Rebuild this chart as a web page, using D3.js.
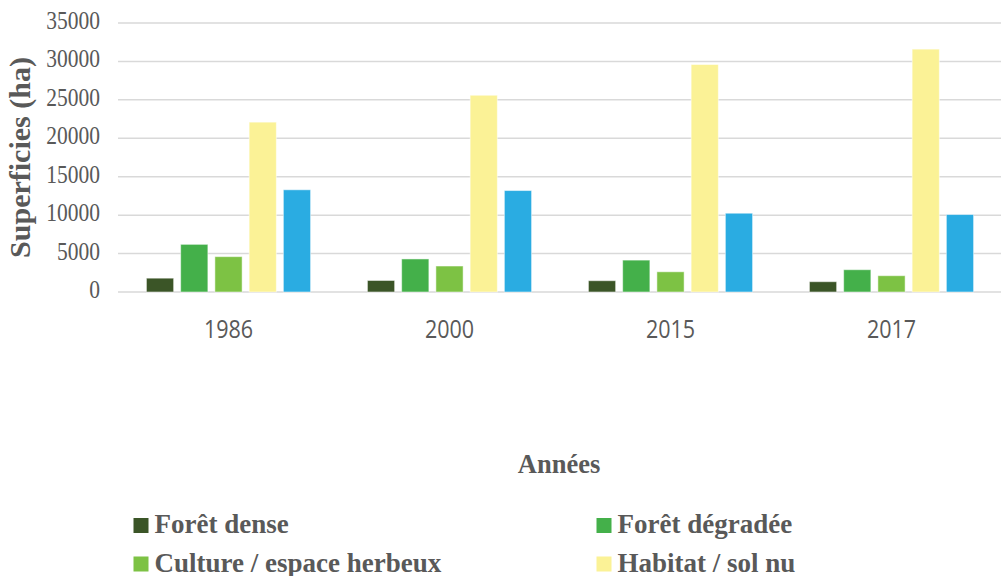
<!DOCTYPE html>
<html>
<head>
<meta charset="utf-8">
<script src="https://cdn.jsdelivr.net/npm/d3@7"></script>
<style>
  html, body { margin: 0; padding: 0; background: #fff; overflow: hidden; }
</style>
</head>
<body>
<div id="chart"></div>
<script>
const years = ["1986", "2000", "2015", "2017"];
const series = ["Forêt dense", "Forêt dégradée", "Culture / espace herbeux", "Habitat / sol nu", "Eau"];
const colors = ["#3b5527", "#44b04a", "#7dc244", "#fbf296", "#2aace2"];
// values per series, one per year
const foretDense = [1800, 1500, 1470, 1340];
const foretDegradee = [6200, 4300, 4150, 2900];
const culture = [4600, 3380, 2630, 2120];
const habitat = [22100, 25600, 29600, 31600];
const eau = [13300, 13200, 10250, 10080];
const values = [foretDense, foretDegradee, culture, habitat, eau];
const yTicks = [0, 5000, 10000, 15000, 20000, 25000, 30000, 35000];

const width = 1001, height = 576;
const margin = {left: 118, right: 0, top: 23, bottom: 284};
const serif = "'Liberation Serif', 'Times New Roman', serif";

const svg = d3.select("#chart").append("svg")
    .attr("width", width).attr("height", height);

const x = d3.scaleBand().domain(years)
    .range([margin.left, width - margin.right + 1]);
const xs = d3.scaleBand().domain(series)
    .range([0, x.bandwidth()])
    .paddingInner(0.205).paddingOuter(0.83);
const y = d3.scaleLinear().domain([0, 35000])
    .range([height - margin.bottom, margin.top]);

// gridlines
svg.append("g").selectAll("line")
    .data(yTicks)
    .join("line")
    .attr("x1", margin.left).attr("x2", width)
    .attr("y1", d => y(d)).attr("y2", d => y(d))
    .attr("stroke", "#d9d9d9").attr("stroke-width", 1.5);

// y tick labels (slightly tall glyphs, like the source image)
svg.append("g").selectAll("text")
    .data(yTicks)
    .join("text")
    .attr("transform", d => `translate(100,${y(d) + 6}) scale(1,1.13)`)
    .attr("text-anchor", "end")
    .style("font-family", serif)
    .style("font-size", "21.5px")
    .attr("fill", "#595959")
    .text(d => d);

// bars
const groups = svg.append("g").selectAll("g")
    .data(years)
    .join("g")
    .attr("transform", d => `translate(${x(d)},0)`);

groups.selectAll("rect")
    .data((yr, i) => series.map((s, j) => ({s, j, v: values[j][i]})))
    .join("rect")
    .attr("x", d => xs(d.s))
    .attr("width", xs.bandwidth())
    .attr("y", d => y(d.v))
    .attr("height", d => y(0) - y(d.v))
    .attr("fill", d => colors[d.j])
    .attr("stroke", "#ffffff").attr("stroke-opacity", 0.5).attr("stroke-width", 1);

// x labels
svg.append("g").selectAll("text")
    .data(years)
    .join("text")
    .attr("transform", d => `translate(${x(d) + x.bandwidth() / 2},338) scale(1,1.16)`)
    .attr("text-anchor", "middle")
    .style("font-family", "'Open Sans', 'Liberation Sans', sans-serif")
    .style("font-size", "21.5px")
    .attr("fill", "#595959")
    .text(d => d);

// axis titles
svg.append("text")
    .attr("transform", `translate(30,${(y(0) + y(35000)) / 2}) rotate(-90)`)
    .attr("text-anchor", "middle")
    .style("font-family", serif)
    .style("font-size", "30px").style("font-weight", "bold")
    .attr("fill", "#595959")
    .text("Superficies (ha)");

svg.append("text")
    .attr("x", 559).attr("y", 473)
    .attr("text-anchor", "middle")
    .style("font-family", serif)
    .style("font-size", "26.5px").style("font-weight", "bold")
    .attr("fill", "#595959")
    .text("Années");

// legend (2 columns); the last entry falls below the visible area in the source
const legend = svg.append("g").selectAll("g")
    .data(series.slice(0, 4))
    .join("g")
    .attr("transform", (d, i) => `translate(${i % 2 === 0 ? 133.5 : 596.5},${518 + Math.floor(i / 2) * 38.5})`);

legend.append("rect")
    .attr("width", 15).attr("height", 15)
    .attr("fill", (d, i) => colors[i]);

legend.append("text")
    .attr("x", 21).attr("y", 15)
    .style("font-family", serif)
    .style("font-size", "27px").style("font-weight", "bold")
    .attr("fill", "#595959")
    .text(d => d);
</script>
</body>
</html>
